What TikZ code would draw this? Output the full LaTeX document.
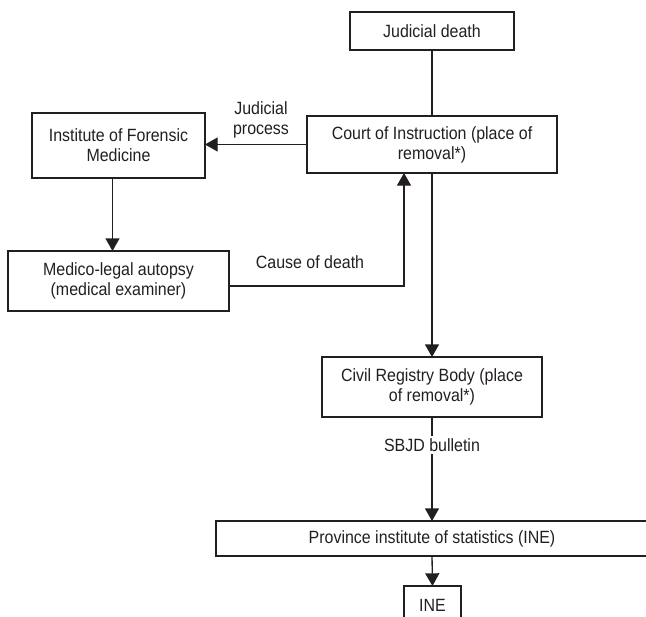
\documentclass[tikz,border=0pt]{standalone}
\usepackage{fontspec}
\setmainfont{Liberation Sans}[FakeStretch=0.9]
\usetikzlibrary{arrows.meta,calc}
\definecolor{ink}{HTML}{231F20}
\begin{document}
\begin{tikzpicture}[x=0.75pt,y=-0.75pt,
  every node/.style={font=\fontsize{13.3}{15}\selectfont, text=ink},
  bx/.style={draw=ink, line width=1pt, rectangle, align=center, inner sep=0pt, outer sep=0pt},
  lbl/.style={align=center, inner sep=1pt},
  conn/.style={draw=ink, line width=1pt},
  arr/.style={conn, -{Triangle[width=10.5pt,length=9.5pt]}}]
\useasboundingbox (0,0) rectangle (646,617);
\clip (0,0) rectangle (646,617);
\node[bx, minimum width=123pt, minimum height=28.5pt] (jd) at (432,31) {Judicial death};
\node[bx, minimum width=187.5pt, minimum height=42.75pt] (court) at (432,144.5) {Court of Instruction (place of\\removal*)};
\node[bx, minimum width=129.75pt, minimum height=48.75pt] (ifm) at (118.5,145.5) {Institute of Forensic\\Medicine};
\node[bx, minimum width=165.75pt, minimum height=45pt] (mla) at (118.5,281) {Medico-legal autopsy\\(medical examiner)};
\node[bx, minimum width=165pt, minimum height=45pt] (crb) at (432,387) {Civil Registry Body (place\\of removal*)};
\node[bx, minimum width=324pt, minimum height=26.25pt] (pis) at (432,538.5) {Province institute of statistics (INE)};
\node[bx, minimum width=42.75pt, minimum height=28.5pt] (ine) at (432.5,605) {INE};
\node[lbl] (jp) at (261,119.5) {Judicial\\process};
\node[lbl] (cod) at (310,262) {Cause of death};
\draw[conn] (jd.south) -- (court.north);
\draw[arr] (court.west) -- (court.west -| ifm.east);
\draw[arr] ([xshift=-4.5pt]ifm.south) -- ([xshift=-4.5pt]mla.north);
\draw[arr] ([yshift=-3.75pt]mla.east) -| ([xshift=-21pt]court.south);
\draw[arr] (court.south) -- (crb.north);
\draw[arr] (crb.south) -- node[pos=0.27, fill=white, inner sep=2pt] (sb) {SBJD bulletin} (pis.north);
\draw[arr] (pis.south) -- (ine.north);
\end{tikzpicture}
\end{document}
